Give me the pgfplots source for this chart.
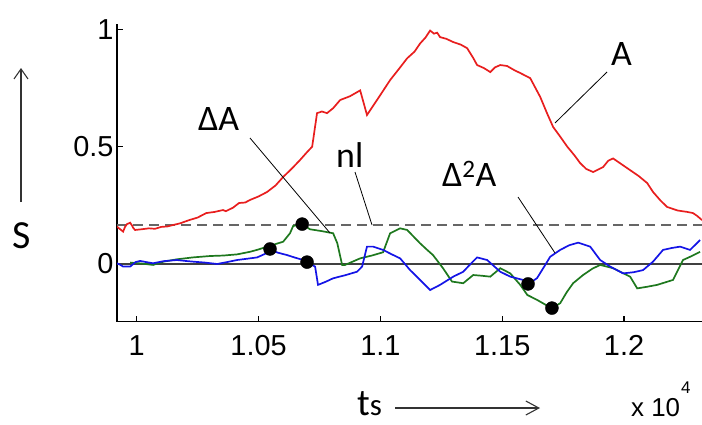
\documentclass[border=0pt]{standalone}
\usepackage{pgfplots}
\pgfplotsset{compat=1.18}
\usetikzlibrary{arrows.meta}
\usepackage{fontspec}
\setmainfont{Liberation Sans}
\newfontfamily\calib{Carlito}
\definecolor{cred}{RGB}{232,30,30}
\definecolor{cgreen}{RGB}{30,120,30}
\definecolor{cblue}{RGB}{20,20,230}

\pgfplotstableread{
x y
0.9919 0.159
0.9930 0.150
0.9944 0.138
0.9952 0.158
0.9960 0.170
0.9973 0.176
0.9980 0.165
0.9985 0.155
0.9993 0.145
1.0020 0.148
1.0050 0.152
1.0075 0.150
1.0100 0.158
1.0125 0.160
1.0149 0.166
1.0180 0.174
1.0215 0.187
1.0250 0.198
1.0285 0.217
1.0320 0.222
1.0354 0.230
1.0366 0.225
1.0395 0.240
1.0420 0.260
1.0445 0.262
1.0465 0.273
1.0500 0.288
1.0535 0.307
1.0570 0.335
1.0601 0.371
1.0635 0.405
1.0670 0.443
1.0700 0.478
1.0720 0.500
1.0740 0.643
1.0760 0.650
1.0781 0.643
1.0806 0.664
1.0835 0.699
1.0875 0.715
1.0917 0.740
1.0945 0.635
1.0990 0.705
1.1040 0.784
1.1075 0.830
1.1110 0.877
1.1140 0.905
1.1163 0.940
1.1185 0.965
1.1204 0.995
1.1220 0.982
1.1233 0.986
1.1245 0.967
1.1270 0.960
1.1299 0.946
1.1330 0.935
1.1356 0.920
1.1380 0.880
1.1397 0.848
1.1425 0.835
1.1451 0.818
1.1470 0.838
1.1492 0.848
1.1520 0.844
1.1550 0.826
1.1574 0.814
1.1615 0.792
1.1656 0.712
1.1685 0.640
1.1709 0.584
1.1740 0.540
1.1767 0.500
1.1795 0.465
1.1820 0.430
1.1845 0.405
1.1873 0.392
1.1914 0.413
1.1935 0.440
1.1955 0.450
1.1990 0.425
1.2025 0.400
1.2060 0.375
1.2095 0.345
1.2119 0.307
1.2150 0.270
1.2177 0.243
1.2220 0.228
1.2259 0.222
1.2283 0.217
1.2300 0.205
1.2320 0.187
}\redA

\pgfplotstableread{
x y
0.9918 0.003
0.9930 -0.002
0.9944 -0.011
0.9973 -0.011
0.9995 0.008
1.0014 0.013
1.0040 0.008
1.0067 0.003
1.0110 0.012
1.0165 0.017
1.0200 0.013
1.0231 0.010
1.0280 0.006
1.0330 0.000
1.0370 0.008
1.0412 0.017
1.0450 0.022
1.0494 0.028
1.0535 0.047
1.0547 0.060
1.0580 0.048
1.0617 0.038
1.0650 0.027
1.0683 0.017
1.0699 0.007
1.0732 -0.011
1.0744 -0.089
1.0775 -0.076
1.0806 -0.061
1.0855 -0.048
1.0904 -0.033
1.0925 -0.011
1.0945 0.074
1.0970 0.074
1.1011 0.060
1.1045 0.042
1.1081 0.024
1.1122 -0.026
1.1165 -0.070
1.1204 -0.111
1.1245 -0.089
1.1299 -0.054
1.1340 -0.033
1.1370 0.000
1.1397 0.028
1.1438 0.017
1.1492 -0.033
1.1533 -0.054
1.1586 -0.068
1.1606 -0.087
1.1643 -0.060
1.1670 -0.015
1.1697 0.031
1.1738 0.060
1.1775 0.080
1.1812 0.091
1.1861 0.074
1.1902 0.017
1.1943 -0.011
1.1996 -0.040
1.2040 -0.035
1.2078 -0.026
1.2119 0.010
1.2160 0.060
1.2195 0.068
1.2230 0.074
1.2271 0.060
1.2312 0.102
}\blueB

\pgfplotstableread{
x y
0.9973 0.006
1.0020 0.002
1.0067 -0.004
1.0110 0.010
1.0165 0.020
1.0230 0.028
1.0301 0.034
1.0355 0.036
1.0412 0.041
1.0465 0.052
1.0500 0.062
1.0535 0.074
1.0570 0.085
1.0601 0.095
1.0629 0.131
1.0642 0.162
1.0679 0.170
1.0711 0.148
1.0760 0.140
1.0806 0.131
1.0823 0.089
1.0843 -0.004
1.0855 -0.004
1.0917 0.024
1.0965 0.036
1.1011 0.050
1.1040 0.131
1.1081 0.152
1.1110 0.145
1.1135 0.118
1.1163 0.088
1.1190 0.062
1.1216 0.038
1.1257 -0.018
1.1294 -0.075
1.1340 -0.082
1.1381 -0.047
1.1415 -0.050
1.1451 -0.054
1.1492 -0.018
1.1533 -0.040
1.1574 -0.089
1.1603 -0.132
1.1643 -0.153
1.1675 -0.172
1.1704 -0.189
1.1738 -0.167
1.1765 -0.120
1.1791 -0.082
1.1832 -0.047
1.1870 -0.020
1.1902 -0.004
1.1955 -0.018
1.2025 -0.054
1.2054 -0.104
1.2095 -0.097
1.2136 -0.089
1.2201 -0.068
1.2218 -0.033
1.2242 0.017
1.2280 0.035
1.2312 0.052
}\greenC

\pgfplotstableread{
x y
1.0547 0.064
1.0679 0.170
1.0699 0.008
1.1606 -0.085
1.1704 -0.188
}\dots

\begin{document}
\begin{tikzpicture}[x=1bp,y=1bp]
\path[use as bounding box] (0,0) rectangle (702,424);
\begin{axis}[
  at={(117bp,102.3bp)}, anchor=south west,
  scale only axis, width=585bp, height=297.7bp,
  xmin=0.9919, xmax=1.232, ymin=-0.246, ymax=1.023,
  axis x line*=bottom, axis y line*=left,
  scaled ticks=false,
  xtick={1,1.05,1.1,1.15,1.2}, xticklabels={1,1.05,1.1,1.15,1.2},
  ytick={0,0.5,1}, yticklabels={0,0.5,1},
  tick align=inside, major tick length=6bp,
  ticklabel style={font=\fontsize{29}{31}\selectfont},
  xticklabel style={yshift=-10bp},
  /pgf/number format/assume math mode=true,
  axis line style={line width=1.5bp, black},
  tick style={line width=1.2bp, black},
]
\addplot[black!75, line width=1.1bp] coordinates {(0.9919,0) (1.232,0)};
\addplot[black!60, line width=1.1bp, dash pattern=on 10bp off 6bp] coordinates {(0.9919,0.166) (1.232,0.166)};
\addplot[cred, line width=1.7bp] table[x=x,y=y] {\redA};
\addplot[cgreen, line width=1.7bp] table[x=x,y=y] {\greenC};
\addplot[cblue, line width=1.7bp] table[x=x,y=y] {\blueB};
\addplot[only marks, mark=*, mark size=6.5bp, black] table[x=x,y=y] {\dots};
\end{axis}
% annotation leader lines
\draw[black, line width=0.8bp] (250,286) -- (330,191);
\draw[black, line width=0.8bp] (355,252) -- (372,199);
\draw[black, line width=0.8bp] (607,352) -- (555,301);
\draw[black, line width=0.8bp] (518,227) -- (555,171);
% labels
\node[anchor=base west, inner sep=0] at (198,294) {\calib\fontsize{36}{40}\selectfont ΔA};
\node[anchor=base west, inner sep=0] at (442,238) {\calib\fontsize{36}{40}\selectfont Δ\textsuperscript{2}A};
\node[anchor=base west, inner sep=0] at (336,257) {\calib\fontsize{36}{40}\selectfont nl};
\node[anchor=base west, inner sep=0] at (611,359) {\calib\fontsize{36}{40}\selectfont A};
\node[anchor=base west, inner sep=0] at (12,176) {\calib\fontsize{40}{44}\selectfont S};
\node[anchor=base west, inner sep=0] at (357,9) {\calib\fontsize{38}{42}\selectfont t{\fontsize{31}{34}\selectfont s}};
\node[anchor=base west, inner sep=0] at (631,7.3) {\fontsize{26}{30}\selectfont x 10};
\node[anchor=base west, inner sep=0] at (681,31) {\fontsize{17}{19}\selectfont 4};
% arrows
\draw[black!80, line width=1.1bp, -{Straight Barb[length=10bp,width=14bp]}] (21,222) -- (21,356);
\draw[black!80, line width=1.1bp, -{Straight Barb[length=13bp,width=14bp]}] (395,16) -- (540,16);
\end{tikzpicture}
\end{document}
